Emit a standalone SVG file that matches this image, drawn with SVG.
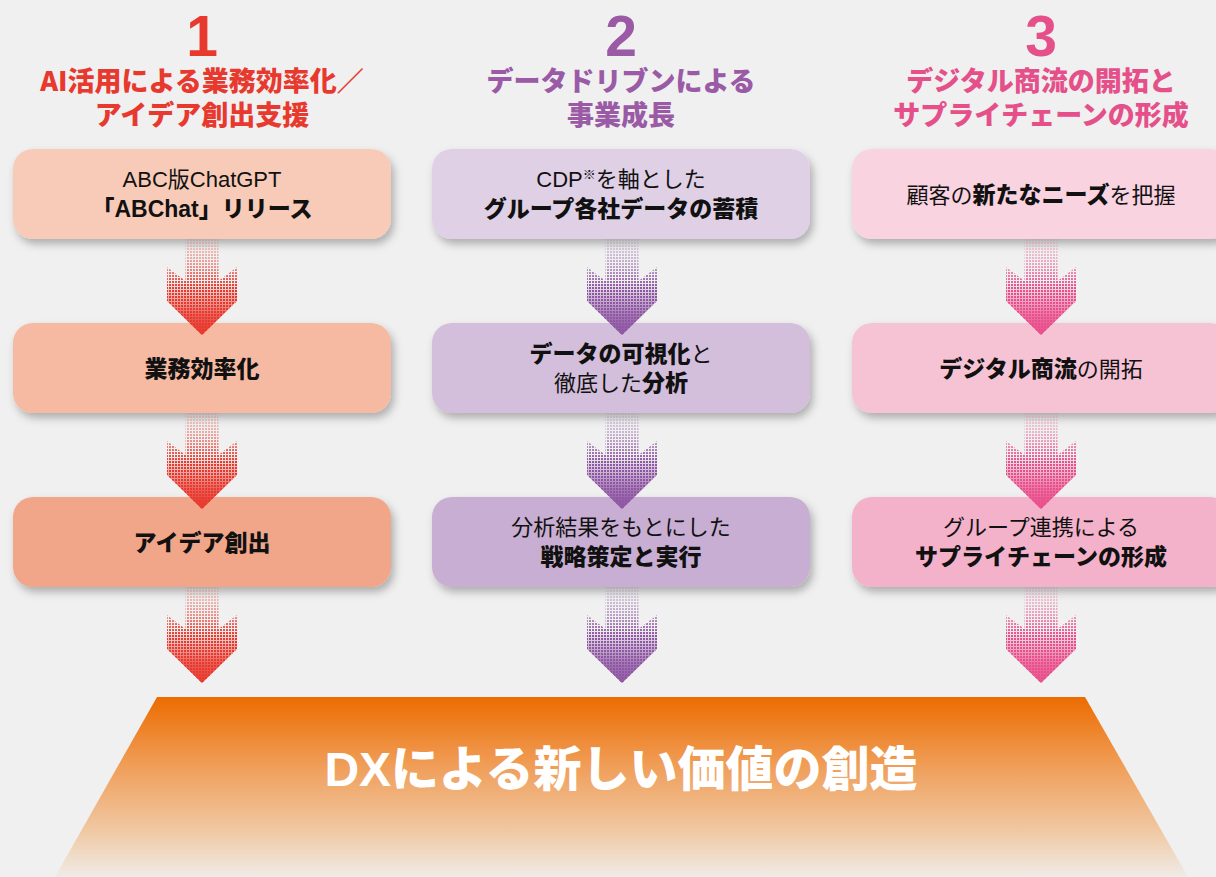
<svg xmlns="http://www.w3.org/2000/svg" width="1216" height="877" viewBox="0 0 1216 877">
  <style>
    .num { font-family: "Liberation Sans", "Noto Sans CJK JP", sans-serif; font-weight: 700; font-size: 57px; text-anchor: middle; }
    .ttl { font-family: "Noto Sans CJK JP", sans-serif; font-weight: 900; font-size: 27px; text-anchor: middle; }
    .c1 { fill: #e8392f; }
    .c2 { fill: #9a5aa6; }
    .c3 { fill: #e5508a; }
    .bt { font-family: "Liberation Sans", "Noto Sans CJK JP", sans-serif; font-size: 22px; fill: #111111; text-anchor: middle; }
    .b { font-weight: 900; font-size: 23px; }
    .dx { font-family: "Liberation Sans", "Noto Sans CJK JP", sans-serif; font-weight: 900; font-size: 48px; fill: #ffffff; text-anchor: middle; }
    .box { filter: url(#shadow); }
  </style>
  <defs>
    <filter id="shadow" x="-10%" y="-20%" width="125%" height="160%">
      <feDropShadow dx="3" dy="5" stdDeviation="4" flood-color="#000" flood-opacity="0.28"/>
    </filter>
    <linearGradient id="gDots" gradientUnits="userSpaceOnUse" x1="0" y1="0" x2="0" y2="96">
      <stop offset="0" stop-color="#1a1a1a"/>
      <stop offset="0.3" stop-color="#888"/>
      <stop offset="0.5" stop-color="#fff"/>
      <stop offset="1" stop-color="#fff"/>
    </linearGradient>
    <linearGradient id="gSolid" gradientUnits="userSpaceOnUse" x1="0" y1="0" x2="0" y2="96">
      <stop offset="0" stop-color="#000"/>
      <stop offset="0.45" stop-color="#000"/>
      <stop offset="0.8" stop-color="#ccc"/>
      <stop offset="1" stop-color="#fff"/>
    </linearGradient>
    <mask id="mDots" maskUnits="userSpaceOnUse" x="-40" y="0" width="80" height="100">
      <rect x="-40" y="0" width="80" height="100" fill="url(#gDots)"/>
    </mask>
    <mask id="mSolid" maskUnits="userSpaceOnUse" x="-40" y="0" width="80" height="100">
      <rect x="-40" y="0" width="80" height="100" fill="url(#gSolid)"/>
    </mask>
    <pattern id="pRed" width="3" height="3" patternUnits="userSpaceOnUse"><rect width="2" height="2" fill="#e8392f"/></pattern>
    <pattern id="pPur" width="3" height="3" patternUnits="userSpaceOnUse"><rect width="2" height="2" fill="#8f57a3"/></pattern>
    <pattern id="pPnk" width="3" height="3" patternUnits="userSpaceOnUse"><rect width="2" height="2" fill="#e94f8c"/></pattern>
    <path id="arrowShape" d="M -16.5 0 L 16.5 0 L 16.5 42 L 35 28 L 35 62 L 0 96 L -35 62 L -35 28 L -16.5 42 Z"/>
    <g id="arrowRed">
      <use href="#arrowShape" fill="url(#pRed)" mask="url(#mDots)"/>
      <use href="#arrowShape" fill="#e8392f" mask="url(#mSolid)"/>
    </g>
    <g id="arrowPur">
      <use href="#arrowShape" fill="url(#pPur)" mask="url(#mDots)"/>
      <use href="#arrowShape" fill="#8f57a3" mask="url(#mSolid)"/>
    </g>
    <g id="arrowPnk">
      <use href="#arrowShape" fill="url(#pPnk)" mask="url(#mDots)"/>
      <use href="#arrowShape" fill="#e94f8c" mask="url(#mSolid)"/>
    </g>
    <linearGradient id="gTrap" x1="0" y1="0" x2="0" y2="1">
      <stop offset="0" stop-color="#ec6c00"/>
      <stop offset="0.4" stop-color="#f0a05c"/>
      <stop offset="0.75" stop-color="#f0c9a4"/>
      <stop offset="1" stop-color="#f0ebe7"/>
    </linearGradient>
  </defs>

  <rect x="0" y="0" width="1216" height="877" fill="#eff0ef"/>

  <!-- Column headings -->
  <g id="heading1">
    <text class="num c1" x="202" y="56">1</text>
    <text class="ttl c1"><tspan x="202" y="91">AI活用による業務効率化／</tspan><tspan x="202" dy="34">アイデア創出支援</tspan></text>
  </g>
  <g id="heading2">
    <text class="num c2" x="621" y="56">2</text>
    <text class="ttl c2"><tspan x="621" y="91">データドリブンによる</tspan><tspan x="621" dy="34">事業成長</tspan></text>
  </g>
  <g id="heading3">
    <text class="num c3" x="1041" y="56">3</text>
    <text class="ttl c3"><tspan x="1041" y="91">デジタル商流の開拓と</tspan><tspan x="1041" dy="34">サプライチェーンの形成</tspan></text>
  </g>

  <!-- Column 1 -->
  <g id="n1a">
    <rect class="box" x="13" y="149" width="378" height="90" rx="20" fill="#f8cbb8"/>
    <text class="bt" x="202" y="187">ABC版ChatGPT</text>
    <text class="bt b" x="202" y="217">「ABChat」リリース</text>
  </g>
  <g id="n1b">
    <rect class="box" x="13" y="323" width="378" height="90" rx="20" fill="#f6b9a1"/>
    <text class="bt b" x="202" y="377">業務効率化</text>
  </g>
  <g id="n1c">
    <rect class="box" x="13" y="497" width="378" height="90" rx="20" fill="#f2a689"/>
    <text class="bt b" x="202" y="551">アイデア創出</text>
  </g>

  <!-- Column 2 -->
  <g id="n2a">
    <rect class="box" x="432" y="149" width="378" height="90" rx="20" fill="#dfd0e5"/>
    <text class="bt" x="621" y="187">CDP<tspan font-size="13" dy="-8">※</tspan><tspan dy="8">を軸とした</tspan></text>
    <text class="bt b" x="621" y="217">グループ各社データの蓄積</text>
  </g>
  <g id="n2b">
    <rect class="box" x="432" y="323" width="378" height="90" rx="20" fill="#d3bedc"/>
    <text class="bt" x="621" y="362"><tspan class="b">データの可視化</tspan>と</text>
    <text class="bt" x="621" y="391">徹底した<tspan class="b">分析</tspan></text>
  </g>
  <g id="n2c">
    <rect class="box" x="432" y="497" width="378" height="90" rx="20" fill="#c8aed2"/>
    <text class="bt" x="621" y="535">分析結果をもとにした</text>
    <text class="bt b" x="621" y="565">戦略策定と実行</text>
  </g>

  <!-- Column 3 -->
  <g id="n3a">
    <rect class="box" x="852" y="149" width="378" height="90" rx="20" fill="#f9d3e0"/>
    <text class="bt" x="1041" y="203">顧客の<tspan class="b">新たなニーズ</tspan>を把握</text>
  </g>
  <g id="n3b">
    <rect class="box" x="852" y="323" width="378" height="90" rx="20" fill="#f6c3d5"/>
    <text class="bt" x="1041" y="377"><tspan class="b">デジタル商流</tspan>の開拓</text>
  </g>
  <g id="n3c">
    <rect class="box" x="852" y="497" width="378" height="90" rx="20" fill="#f3b2c9"/>
    <text class="bt" x="1041" y="535">グループ連携による</text>
    <text class="bt b" x="1041" y="565">サプライチェーンの形成</text>
  </g>

  <!-- Result -->
  <g id="result">
    <polygon points="157,697 1085,697 1188,877 55,877" fill="url(#gTrap)"/>
    <text class="dx" x="621" y="786">DXによる新しい価値の創造</text>
  </g>

  <!-- Connectors -->
  <g id="connectors">
    <use href="#arrowRed" transform="translate(202,239)"/>
    <use href="#arrowRed" transform="translate(202,413)"/>
    <use href="#arrowRed" transform="translate(202,587)"/>
    <use href="#arrowPur" transform="translate(622,239)"/>
    <use href="#arrowPur" transform="translate(622,413)"/>
    <use href="#arrowPur" transform="translate(622,587)"/>
    <use href="#arrowPnk" transform="translate(1041,239)"/>
    <use href="#arrowPnk" transform="translate(1041,413)"/>
    <use href="#arrowPnk" transform="translate(1041,587)"/>
  </g>
</svg>
